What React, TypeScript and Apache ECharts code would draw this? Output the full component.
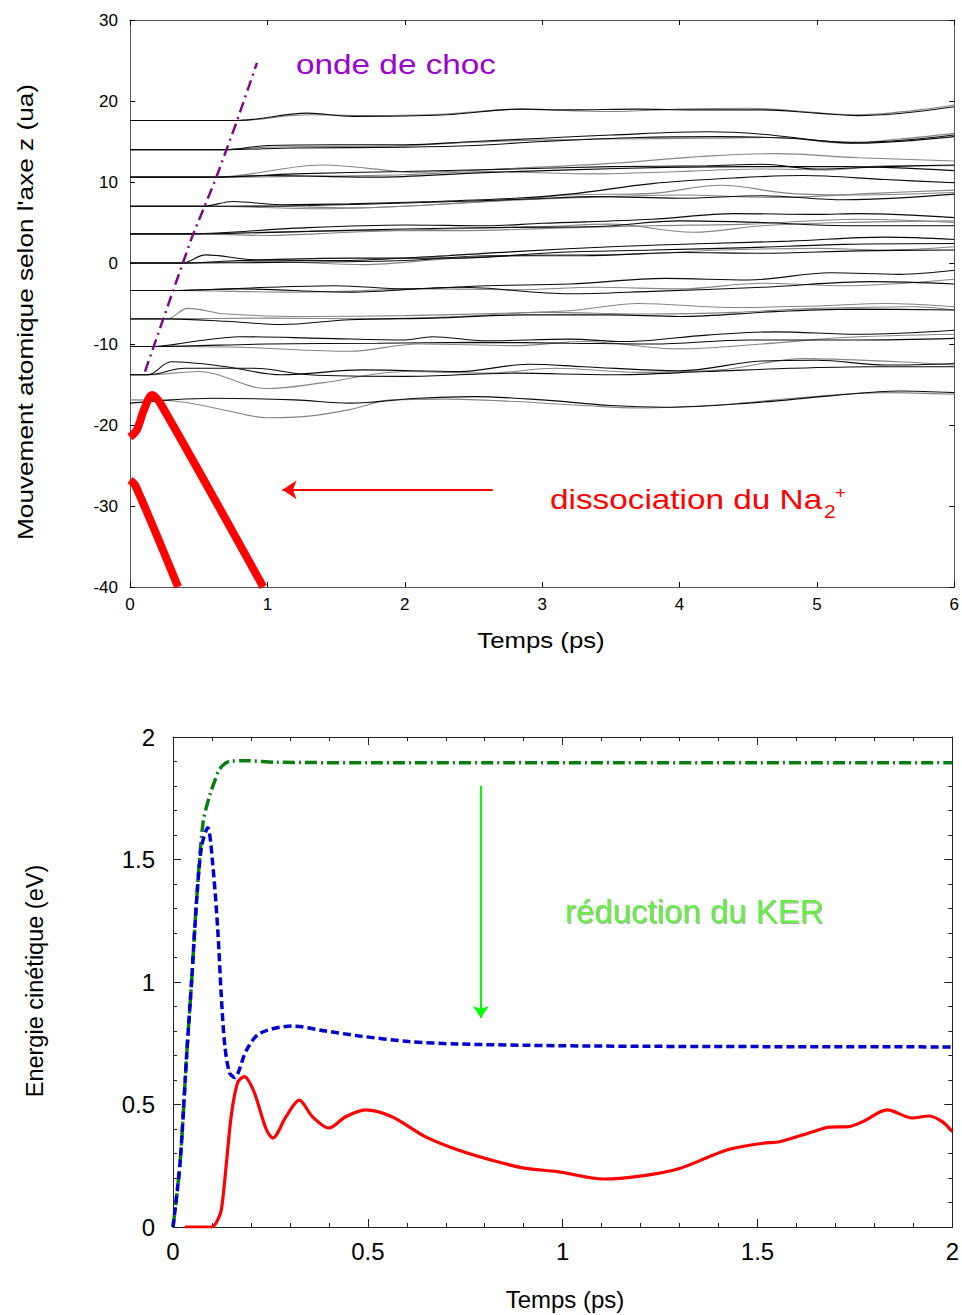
import React, { useEffect, useRef } from "react";
import * as echarts from "echarts";

// ---------- Top chart: atomic trajectories along z (ua) vs time (ps) ----------
const topXTicks = [0, 1, 2, 3, 4, 5, 6];
const topYTicks = [-40, -30, -20, -10, 0, 10, 20, 30];

const l1a = [[0,17.6],[0.78,17.6],[1.29,18.5],[1.62,18.1],[2.3,18.3],[2.84,19.0],[3.2,18.9],[3.7,19.0],[4.1,18.9],[4.6,18.9],[5.0,18.5],[5.3,18.2],[6.0,19.3]];
const l1b = [[0,17.6],[0.78,17.6],[1.3,18.3],[1.7,18.2],[2.3,18.4],[2.84,19.0],[3.0,18.9],[3.5,18.7],[4.0,19.0],[4.5,19.1],[5.3,18.3],[6.0,19.5]];
const l2a = [[0,14.0],[0.69,14.0],[1.0,14.5],[1.5,14.6],[2.0,14.6],[2.5,15.0],[3.0,15.4],[3.5,15.8],[4.2,16.2],[4.6,15.9],[5.1,15.0],[5.3,14.9],[6.0,15.8]];
const l2b = [[0,14.0],[0.69,14.0],[1.0,14.3],[1.5,14.4],[2.0,14.5],[2.5,14.9],[3.0,15.2],[3.5,15.3],[4.2,15.4],[4.7,15.5],[5.2,14.8],[5.6,15.3],[6.0,16.0]];
const l2c = [[0,14.0],[0.69,14.0],[1.2,14.2],[2.0,14.3],[2.5,14.5],[3.0,15.0],[3.7,15.5],[4.3,15.6],[4.8,15.4],[5.3,14.8],[6.0,15.6]];
const l3a = [[0,10.6],[0.62,10.6],[1.4,12.1],[2.1,11.2],[2.8,11.7],[3.5,12.3],[4.2,13.2],[4.7,13.5],[5.3,13.0],[6.0,12.6]];
const l3b = [[0,10.6],[0.62,10.6],[1.2,11.0],[2.0,11.3],[2.8,11.6],[3.5,11.9],[4.2,12.0],[4.6,12.2],[5.0,11.6],[5.5,11.9],[6.0,12.1]];
const l3c = [[0,10.6],[0.62,10.6],[1.2,10.7],[2.0,10.9],[2.6,11.3],[3.4,11.0],[4.0,11.3],[4.6,11.6],[5.1,11.5],[5.5,12.0],[6.0,12.0]];
const l3d = [[0,10.6],[0.62,10.6],[1.0,10.8],[1.8,10.6],[2.5,11.1],[3.2,11.5],[3.9,11.8],[4.5,11.9],[5.2,11.9],[6.0,11.4]];
const l4a = [[0,7.0],[0.53,7.0],[0.75,7.6],[1.1,7.2],[1.6,7.3],[2.2,7.6],[2.8,8.0],[3.2,8.5],[3.8,9.8],[4.4,10.5],[4.9,10.8],[5.5,10.3],[6.0,9.9]];
const l4b = [[0,7.0],[0.53,7.0],[1.0,7.0],[1.6,6.8],[2.2,7.2],[2.8,7.8],[3.2,8.4],[3.8,8.6],[4.3,9.6],[4.8,8.6],[5.3,8.4],[6.0,8.7]];
const l4c = [[0,7.0],[0.53,7.0],[1.3,7.1],[2.2,7.5],[2.9,7.9],[3.4,8.2],[4.0,8.0],[4.6,8.3],[5.2,7.8],[6.0,8.5]];
const l4d = [[0,7.0],[0.53,7.0],[1.4,6.7],[2.0,7.0],[2.7,7.7],[3.3,8.1],[4.0,8.4],[4.7,8.1],[5.4,8.6],[6.0,9.0]];
const l5a = [[0,3.6],[0.45,3.6],[1.2,4.3],[2.0,4.7],[2.6,4.6],[3.0,4.9],[3.8,5.4],[4.4,6.1],[5.0,6.0],[5.3,6.1],[6.0,5.6]];
const l5b = [[0,3.6],[0.45,3.6],[1.0,3.4],[1.6,3.8],[2.3,4.2],[3.0,4.5],[3.5,4.8],[4.1,3.8],[4.6,4.6],[5.2,5.0],[6.0,5.2]];
const l5c = [[0,3.6],[0.45,3.6],[1.3,3.9],[2.0,4.2],[2.8,4.4],[3.4,4.5],[4.0,5.2],[4.6,5.0],[5.2,4.6],[6.0,4.6]];
const l5d = [[0,3.6],[0.45,3.6],[0.9,3.8],[1.7,4.0],[2.4,4.0],[3.1,4.3],[3.8,4.6],[4.5,4.8],[5.3,5.4],[6.0,5.0]];
const l6a = [[0,0],[0.38,0],[0.55,1.0],[0.9,0.4],[1.5,0.3],[2.2,0.8],[2.8,1.4],[3.5,2.0],[4.2,2.4],[4.8,2.7],[5.5,3.2],[6.0,2.9]];
const l6b = [[0,0],[0.38,0],[1.0,0.2],[1.7,-0.2],[2.3,0.5],[3.0,1.0],[3.7,1.1],[4.3,1.6],[5.0,1.8],[5.5,1.6],[6.0,2.0]];
const l6c = [[0,0],[0.38,0],[1.2,0.1],[2.0,0.3],[2.6,0.9],[3.3,0.9],[4.0,1.3],[4.6,1.2],[5.3,1.5],[6.0,1.6]];
const l6d = [[0,0],[0.38,0],[0.8,0.3],[1.6,0.6],[2.4,0.6],[3.1,1.3],[3.8,1.6],[4.5,1.9],[5.2,2.3],[6.0,2.4]];
const l7a = [[0,-3.4],[0.29,-3.4],[1.0,-3.0],[1.5,-2.8],[2.0,-3.2],[2.6,-2.8],[3.2,-2.6],[3.9,-1.9],[4.5,-2.1],[5.1,-1.2],[5.6,-1.4],[6.0,-0.9]];
const l7b = [[0,-3.4],[0.29,-3.4],[1.2,-3.6],[2.2,-3.2],[2.8,-3.3],[3.4,-3.0],[4.0,-3.2],[4.6,-2.5],[5.2,-2.8],[6.0,-2.0]];
const l7c = [[0,-3.4],[0.29,-3.4],[0.8,-3.2],[1.6,-3.6],[2.4,-3.0],[3.2,-3.8],[3.8,-3.5],[4.6,-3.0],[5.4,-2.3],[6.0,-2.6]];
const l8a = [[0,-6.9],[0.27,-6.9],[0.42,-5.6],[0.7,-6.3],[1.3,-6.6],[2.0,-6.5],[2.7,-6.2],[3.2,-5.9],[3.7,-5.0],[4.4,-5.5],[5.0,-5.3],[5.5,-5.0],[6.0,-5.4]];
const l8b = [[0,-6.9],[0.27,-6.9],[0.7,-7.2],[1.1,-7.6],[1.6,-7.0],[2.2,-6.8],[2.9,-6.4],[3.5,-6.4],[4.0,-6.6],[4.7,-6.0],[5.3,-5.7],[6.0,-5.8]];
const l8c = [[0,-6.9],[0.27,-6.9],[1.0,-6.8],[1.8,-6.9],[2.4,-6.6],[3.0,-6.1],[3.8,-6.3],[4.4,-6.1],[5.0,-5.6],[5.7,-5.4],[6.0,-5.8]];
const l9a = [[0,-10.3],[0.17,-10.3],[0.5,-9.6],[0.8,-9.1],[1.4,-9.3],[2.0,-9.5],[2.2,-9.1],[2.6,-9.6],[3.2,-9.4],[3.6,-9.7],[4.2,-8.9],[4.7,-8.5],[5.3,-8.8],[6.0,-8.3]];
const l9b = [[0,-10.3],[0.17,-10.3],[0.8,-10.4],[1.6,-10.9],[2.1,-10.0],[2.8,-10.2],[3.3,-9.7],[4.0,-10.6],[4.6,-10.0],[5.2,-9.2],[6.0,-8.8]];
const l9c = [[0,-10.3],[0.17,-10.3],[1.0,-10.0],[1.8,-9.9],[2.5,-9.8],[3.2,-9.9],[3.8,-10.0],[4.5,-9.5],[5.3,-9.5],[6.0,-9.3]];
const l10a = [[0,-13.8],[0.13,-13.8],[0.3,-12.2],[0.7,-12.8],[1.1,-13.8],[1.7,-13.2],[2.4,-13.4],[2.9,-12.5],[3.3,-12.8],[4.0,-13.3],[4.6,-12.1],[5.0,-12.0],[5.5,-12.6],[6.0,-12.4]];
const l10b = [[0,-13.8],[0.13,-13.8],[0.5,-13.4],[1.0,-15.5],[1.4,-14.8],[2.0,-13.4],[2.6,-13.6],[3.1,-13.0],[3.7,-13.5],[4.3,-13.2],[4.9,-11.8],[5.6,-12.2],[6.0,-12.6]];
const l10c = [[0,-13.8],[0.13,-13.8],[0.4,-13.0],[0.9,-13.0],[1.3,-13.8],[2.0,-14.0],[2.8,-13.6],[3.5,-13.8],[4.2,-13.4],[4.8,-13.0],[5.4,-12.8],[6.0,-12.8]];
const l11a = [[0,-17.3],[0.3,-16.9],[0.6,-16.7],[1.2,-16.9],[1.6,-17.3],[2.1,-16.7],[2.5,-16.5],[3.0,-16.9],[3.5,-17.6],[3.9,-17.8],[4.5,-17.3],[5.1,-16.4],[5.6,-15.8],[6.0,-16.0]];
const l11b = [[0,-16.9],[0.3,-17.0],[0.7,-18.2],[1.0,-19.1],[1.3,-18.9],[1.6,-18.1],[1.9,-16.9],[2.3,-16.8],[2.8,-17.1],[3.3,-17.6],[3.7,-17.9],[4.3,-17.5],[4.9,-16.6],[5.5,-16.0],[6.0,-16.2]];

const blackLines = [l1a, l2a, l2c, l3b, l3d, l4a, l4c, l5a, l5c, l6a, l6c, l6d, l7a, l7c, l8b, l9a, l9c, l10a, l10c, l11a];
const grayLines = [l1b, l2b, l3a, l3c, l4b, l4d, l5b, l5d, l6b, l7b, l8a, l8c, l9b, l10b, l11b];

const na2Fragment1 = [[0,-21.5],[0.05,-20.6],[0.1,-18.2],[0.16,-16.3],[0.22,-17.3],[0.97,-40]];
const na2Fragment2 = [[0,-26.8],[0.04,-27.5],[0.35,-40]];
const shockFront = [[0.109,-13.4],[0.303,-3.95],[0.449,3.1],[0.62,10.2],[0.776,17.4],[0.924,24.7]];
const dissocArrow = [[2.64,-28],[1.11,-28]];

// ---------- Bottom chart: kinetic energy (eV) vs time (ps) ----------
const bottomXTicks = [0, 0.5, 1, 1.5, 2];
const bottomYTicks = [0, 0.5, 1, 1.5, 2];
const greenKE = [[0,0],[0.018,0.26],[0.035,0.70],[0.048,1.01],[0.06,1.32],[0.077,1.65],[0.094,1.76],[0.107,1.82],[0.12,1.87],[0.145,1.90],[0.188,1.903],[0.264,1.897],[0.5,1.895],[1.0,1.895],[1.5,1.895],[2.0,1.895]];
const blueKE = [[0,0],[0.018,0.26],[0.035,0.70],[0.048,1.01],[0.06,1.32],[0.073,1.55],[0.089,1.63],[0.102,1.48],[0.115,1.21],[0.124,0.94],[0.133,0.74],[0.145,0.63],[0.158,0.61],[0.188,0.72],[0.222,0.79],[0.306,0.82],[0.392,0.80],[0.477,0.78],[0.605,0.757],[0.73,0.747],[0.99,0.74],[1.3,0.737],[1.6,0.736],[2.0,0.735]];
const redKE = [[0.03,0],[0.1,0],[0.112,0.02],[0.124,0.07],[0.137,0.26],[0.15,0.46],[0.166,0.59],[0.184,0.614],[0.2,0.58],[0.213,0.53],[0.239,0.40],[0.256,0.363],[0.29,0.45],[0.324,0.518],[0.358,0.45],[0.40,0.404],[0.443,0.45],[0.494,0.478],[0.562,0.45],[0.647,0.369],[0.732,0.314],[0.817,0.273],[0.902,0.24],[0.987,0.226],[1.106,0.196],[1.217,0.212],[1.302,0.24],[1.387,0.294],[1.429,0.318],[1.514,0.342],[1.557,0.348],[1.642,0.389],[1.684,0.408],[1.735,0.41],[1.77,0.43],[1.833,0.478],[1.897,0.445],[1.939,0.453],[1.974,0.43],[2.0,0.389]];
const kerArrow = [[0.79,1.80],[0.79,0.853]];

const FONT = "'Liberation Sans', Arial, sans-serif";

export default function App() {
  const ref = useRef<HTMLDivElement>(null);
  useEffect(() => {
    if (!ref.current) return;
    const chart = echarts.init(ref.current, undefined, { renderer: "svg" });
    const topAxisColor = "#555";
    const botAxisColor = "#222";

    const topX = (pos: string, show: boolean) => ({
      type: "value", gridIndex: 0, position: pos, min: topXTicks[0], max: topXTicks[topXTicks.length - 1], interval: 1,
      axisLine: { show: true, onZero: false, lineStyle: { color: topAxisColor, width: 1 } },
      axisTick: { show: true, inside: true, length: 5, lineStyle: { color: "#000" } },
      axisLabel: { show, fontSize: 17, color: "#000", margin: 9, fontFamily: FONT },
      splitLine: { show: false },
    });
    const topY = (pos: string, show: boolean) => ({
      type: "value", gridIndex: 0, position: pos, min: topYTicks[0], max: topYTicks[topYTicks.length - 1], interval: 10,
      axisLine: { show: true, onZero: false, lineStyle: { color: topAxisColor, width: 1 } },
      axisTick: { show: true, inside: true, length: 5, lineStyle: { color: "#000" } },
      axisLabel: { show, fontSize: 17, color: "#000", margin: 12, fontFamily: FONT },
      splitLine: { show: false },
    });
    const botX = (pos: string, show: boolean) => ({
      type: "value", gridIndex: 1, position: pos, min: bottomXTicks[0], max: bottomXTicks[bottomXTicks.length - 1], interval: 0.5,
      axisLine: { show: true, onZero: false, lineStyle: { color: botAxisColor, width: 1 } },
      axisTick: { show: true, inside: true, length: 8, lineStyle: { color: botAxisColor } },
      minorTick: { show: true, splitNumber: 5, length: 4, lineStyle: { color: botAxisColor } },
      axisLabel: { show, fontSize: 24, color: "#000", margin: 12, fontFamily: FONT },
      splitLine: { show: false },
    });
    const botY = (pos: string, show: boolean) => ({
      type: "value", gridIndex: 1, position: pos, min: bottomYTicks[0], max: bottomYTicks[bottomYTicks.length - 1], interval: 0.5,
      axisLine: { show: true, onZero: false, lineStyle: { color: botAxisColor, width: 1 } },
      axisTick: { show: true, inside: true, length: 8, lineStyle: { color: botAxisColor } },
      minorTick: { show: true, splitNumber: 5, length: 4, lineStyle: { color: botAxisColor } },
      axisLabel: { show, fontSize: 24, color: "#000", margin: 18, fontFamily: FONT },
      splitLine: { show: false },
    });

    const traj = (data: number[][], color: string) => ({
      type: "line", xAxisIndex: 0, yAxisIndex: 0, data, smooth: 0.35, symbol: "none", silent: true,
      lineStyle: { color, width: 1.1 }, z: 2,
    });

    const series: any[] = [
      ...grayLines.map((d) => traj(d, "#858585")),
      ...blackLines.map((d) => traj(d, "#0a0a0a")),
      {
        type: "line", xAxisIndex: 0, yAxisIndex: 0, data: na2Fragment1, smooth: 0.3, symbol: "none",
        lineStyle: { color: "#ff0000", width: 8 }, z: 4,
      },
      {
        type: "line", xAxisIndex: 0, yAxisIndex: 0, data: na2Fragment2, smooth: 0.3, symbol: "none",
        lineStyle: { color: "#ff0000", width: 8 }, z: 4,
        markLine: {
          silent: true, symbol: ["none", "arrow"], symbolSize: [14, 14], label: { show: false },
          lineStyle: { color: "#ff0000", width: 2, type: "solid" },
          data: [[{ coord: dissocArrow[0] }, { coord: dissocArrow[1] }]],
        },
      },
      {
        type: "line", xAxisIndex: 0, yAxisIndex: 0, data: shockFront, symbol: "none",
        lineStyle: { color: "#7d0a80", width: 2.5, type: [11, 5, 2, 5] }, z: 5,
      },
      {
        type: "line", xAxisIndex: 2, yAxisIndex: 2, data: greenKE, smooth: 0.3, symbol: "none",
        lineStyle: { color: "#0a7d12", width: 3.5, type: [12, 4, 2, 4] }, z: 3,
        markLine: {
          silent: true, symbol: ["none", "arrow"], symbolSize: [12, 12], label: { show: false },
          lineStyle: { color: "#00ff00", width: 2, type: "solid" },
          data: [[{ coord: kerArrow[0] }, { coord: kerArrow[1] }]],
        },
      },
      {
        type: "line", xAxisIndex: 2, yAxisIndex: 2, data: blueKE, smooth: 0.3, symbol: "none",
        lineStyle: { color: "#0000cc", width: 3.5, type: [8, 4] }, z: 4,
      },
      {
        type: "line", xAxisIndex: 2, yAxisIndex: 2, data: redKE, smooth: 0.3, symbol: "none",
        lineStyle: { color: "#ff0000", width: 3.2 }, z: 5,
      },
    ];

    const txt = (x: number, y: number, text: string, font: string, color: string, opts: any = {}) => ({
      type: "text", x, y, silent: true, rotation: opts.rotation || 0, scaleX: opts.scaleX || 1, scaleY: 1,
      style: {
        text, font, fill: color, align: opts.align || "left", textAlign: opts.align || "left",
        verticalAlign: "middle", textVerticalAlign: "middle",
        textShadowColor: opts.shadow, textShadowBlur: opts.shadow ? 1 : 0,
        textShadowOffsetX: opts.shadow ? 1 : 0, textShadowOffsetY: opts.shadow ? 1 : 0,
      },
    });

    chart.setOption({
      animation: false,
      grid: [
        { left: 130, top: 20, width: 825, height: 567, containLabel: false },
        { left: 173, top: 737, width: 784, height: 490, containLabel: false },
      ],
      xAxis: [topX("bottom", true), topX("top", false), botX("bottom", true), botX("top", false)],
      yAxis: [topY("left", true), topY("right", false), botY("left", true), botY("right", false)],
      series,
      graphic: [
        txt(25, 312, "Mouvement atomique selon l'axe z (ua)", `22px ${FONT}`, "#000", { rotation: Math.PI / 2, align: "center", scaleX: 1.19 }),
        txt(541, 640, "Temps (ps)", `22px ${FONT}`, "#000", { align: "center", scaleX: 1.17 }),
        txt(296, 64, "onde de choc", `28px ${FONT}`, "#9900cc", { scaleX: 1.19 }),
        txt(550, 499, "dissociation du Na", `28px ${FONT}`, "#ff0000", { scaleX: 1.19 }),
        txt(824, 511, "2", `19px ${FONT}`, "#ff0000", { scaleX: 1.1 }),
        txt(835, 492, "+", `17px ${FONT}`, "#ff0000", { scaleX: 1.1 }),
        txt(35, 981, "Energie cinétique (eV)", `23.5px ${FONT}`, "#000", { rotation: Math.PI / 2, align: "center" }),
        txt(565, 1299, "Temps (ps)", `24px ${FONT}`, "#000", { align: "center" }),
        txt(565, 911, "réduction du KER", `33px ${FONT}`, "#66ee44", { shadow: "rgba(120,120,120,0.6)" }),
      ],
    });
    return () => chart.dispose();
  }, []);
  return <div ref={ref} style={{ position: "absolute", left: 0, top: 0, width: 962, height: 1315 }} />;
}
